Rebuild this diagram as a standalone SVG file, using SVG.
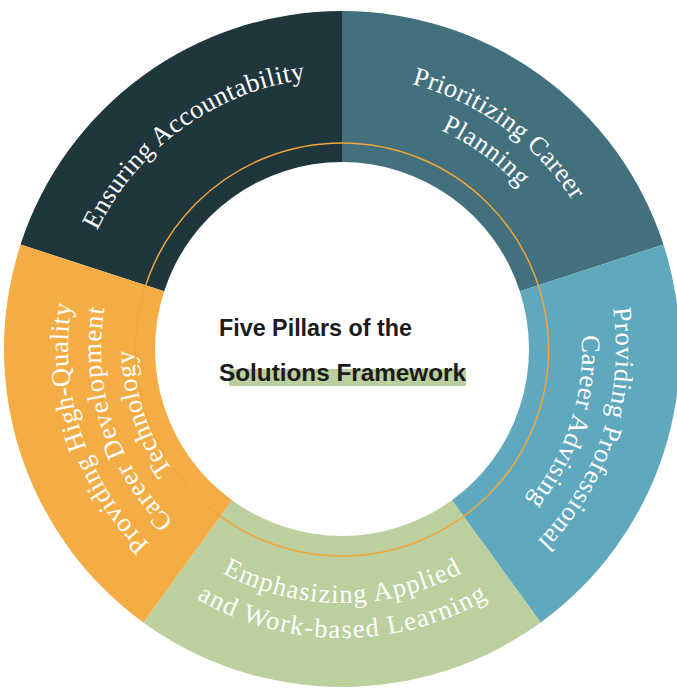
<svg xmlns="http://www.w3.org/2000/svg" xmlns:xlink="http://www.w3.org/1999/xlink" width="677" height="688" viewBox="0 0 677 688">
<style>
.lbl{font-family:"Liberation Serif","Times New Roman",serif;font-size:26.5px;fill:#ffffff;}
.ttl{font-family:"Liberation Sans",Arial,sans-serif;font-size:23px;font-weight:700;fill:#1b1b1b;}
</style>
<defs>
<path id="pTL" d="M71.5,377.4 A272,272 0 0 1 452.6,100.5"/>
<path id="pTR1" d="M230.6,98.7 A274,274 0 0 1 614.5,377.6"/>
<path id="pTR2" d="M244.4,129.7 A240,240 0 0 1 580.7,374.1"/>
<path id="pR1" d="M545.6,165.7 A274,274 0 0 1 399.0,617.0"/>
<path id="pR2" d="M520.4,188.4 A240,240 0 0 1 391.9,583.8"/>
<path id="pL1" d="M285.0,617.0 A274,274 0 0 1 138.4,165.7"/>
<path id="pL2" d="M291.9,584.7 A241,241 0 0 1 162.9,187.7"/>
<path id="pL3" d="M298.8,552.5 A208,208 0 0 1 187.4,209.8"/>
<path id="pB1" d="M122.0,476.0 A254,254 0 0 0 562.0,476.0"/>
<path id="pB2" d="M91.7,493.5 A289,289 0 0 0 592.3,493.5"/>
</defs>

<g id="pillar-accountability">
<path fill="#1f363d" d="M20.54,244.55 A338,338 0 0 1 342,11 L342,162 A187,187 0 0 0 164.15,291.21 Z"/>
<text class="lbl" text-anchor="middle"><textPath xlink:href="#pTL" href="#pTL" startOffset="50%" textLength="268" lengthAdjust="spacing">Ensuring Accountability</textPath></text>
</g>

<g id="pillar-career-planning">
<path fill="#42707c" d="M342,11 A338,338 0 0 1 663.46,244.55 L519.85,291.21 A187,187 0 0 0 342,162 Z"/>
<text class="lbl" text-anchor="middle"><textPath xlink:href="#pTR1" href="#pTR1" startOffset="50%" textLength="203" lengthAdjust="spacing">Prioritizing Career</textPath></text>
<text class="lbl" text-anchor="middle"><textPath xlink:href="#pTR2" href="#pTR2" startOffset="50%" textLength="98" lengthAdjust="spacing">Planning</textPath></text>
</g>

<g id="pillar-career-advising">
<path fill="#60a8bd" d="M663.46,244.55 A338,338 0 0 1 540.67,622.45 L451.92,500.29 A187,187 0 0 0 519.85,291.21 Z"/>
<text class="lbl" text-anchor="middle"><textPath xlink:href="#pR1" href="#pR1" startOffset="50%" textLength="254" lengthAdjust="spacing">Providing Professional</textPath></text>
<text class="lbl" text-anchor="middle"><textPath xlink:href="#pR2" href="#pR2" startOffset="50%" textLength="178" lengthAdjust="spacing">Career Advising</textPath></text>
</g>

<g id="pillar-work-based-learning">
<path fill="#bccf9e" d="M540.67,622.45 A338,338 0 0 1 143.33,622.45 L232.08,500.29 A187,187 0 0 0 451.92,500.29 Z"/>
<text class="lbl" text-anchor="middle"><textPath xlink:href="#pB1" href="#pB1" startOffset="50%" textLength="250" lengthAdjust="spacing">Emphasizing Applied</textPath></text>
<text class="lbl" text-anchor="middle"><textPath xlink:href="#pB2" href="#pB2" startOffset="50%" textLength="305" lengthAdjust="spacing">and Work-based Learning</textPath></text>
</g>

<g id="pillar-career-technology">
<path fill="#f4ad44" d="M143.33,622.45 A338,338 0 0 1 20.54,244.55 L164.15,291.21 A187,187 0 0 0 232.08,500.29 Z"/>
<text class="lbl" text-anchor="middle"><textPath xlink:href="#pL1" href="#pL1" startOffset="50%" textLength="262" lengthAdjust="spacing">Providing High-Quality</textPath></text>
<text class="lbl" text-anchor="middle"><textPath xlink:href="#pL2" href="#pL2" startOffset="50%" textLength="233" lengthAdjust="spacing">Career Development</textPath></text>
<text class="lbl" text-anchor="middle"><textPath xlink:href="#pL3" href="#pL3" startOffset="50%" textLength="128" lengthAdjust="spacing">Technology</textPath></text>
</g>

<g id="connectors">
<circle cx="342" cy="349.5" r="206.5" fill="none" stroke="#f2a63b" stroke-width="1.5"/>
</g>

<g id="title">
<rect x="229" y="369" width="237" height="17" fill="#bccf9e"/>
<text class="ttl" x="219" y="336" textLength="193" lengthAdjust="spacingAndGlyphs">Five Pillars of the</text>
<text class="ttl" x="219" y="380.5" textLength="247" lengthAdjust="spacingAndGlyphs">Solutions Framework</text>
</g>
</svg>
